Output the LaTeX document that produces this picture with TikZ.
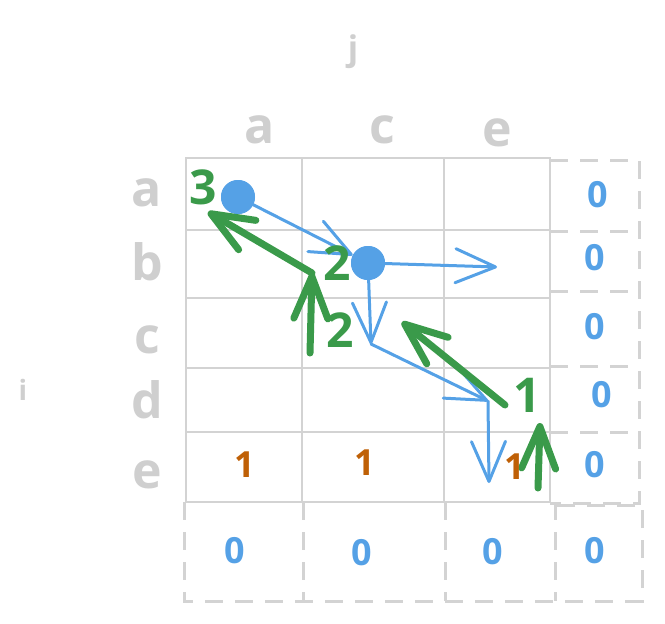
\documentclass[tikz,border=0pt]{standalone}
\usepackage{fontspec}
\setmainfont{Open Sans}
\usetikzlibrary{arrows.meta}

\definecolor{linegray}{HTML}{D3D3D3}
\definecolor{labelgray}{HTML}{CFCFCF}
\definecolor{zeroblue}{HTML}{55A1E6}
\definecolor{stepgreen}{HTML}{3A9A4A}
\definecolor{countorange}{HTML}{BF6006}

\begin{document}
\begin{tikzpicture}[x=1pt,y=-1pt,
  rowlabel/.style={text=labelgray,inner sep=0pt,font=\bfseries\fontsize{50}{50}\selectfont},
  zerolabel/.style={text=zeroblue,inner sep=0pt,font=\bfseries\fontsize{36}{36}\selectfont},
  onelabel/.style={text=countorange,inner sep=0pt,font=\bfseries\fontsize{36}{36}\selectfont},
  steplabel/.style={text=stepgreen,inner sep=0pt,font=\bfseries\fontsize{48}{48}\selectfont},
  visit/.style={circle,fill=zeroblue,minimum size=34pt,inner sep=0pt},
  walk/.style={draw=zeroblue,line width=3pt,line cap=round,
    -{Straight Barb[round,length=40pt,width=34pt]}},
  backstep/.style={draw=stepgreen,line width=7pt,line cap=round,
    -{Straight Barb[round,length=42pt,width=34pt]}},
  dashcell/.style={draw=linegray,line width=3pt,dash pattern=on 18pt off 12pt}]
  \useasboundingbox (0,0) rectangle (665,624);

  % table
  \draw[linegray,line width=2pt] (186,158) rectangle (550,502);
  \foreach \x in {302,444}
    \draw[linegray,line width=2pt] (\x,158) -- (\x,502);
  \foreach \y in {230,298,368,432}
    \draw[linegray,line width=2pt] (186,\y) -- (550,\y);

  % extra column and row
  \draw[dashcell] (550,160) -- (639,160) -- (639,503) -- (550,503);
  \foreach \y in {231,291,366,432}
    \draw[dashcell] (550,\y) -- (639,\y);
  \draw[dashcell] (184,502) -- (184,601) -- (642,601) -- (642,505) -- (555,505);
  \foreach \x in {303,445,555}
    \draw[dashcell] (\x,502) -- (\x,601);

  % labels
  \node[text=labelgray,font=\bfseries\fontsize{34}{34}\selectfont] (jlabel) at (353,52) {j};
  \node[text=labelgray,font=\bfseries\fontsize{28}{28}\selectfont] (ilabel) at (23,390) {i};
  \node[rowlabel] (ca) at (260,130) {a};
  \node[rowlabel] (cc) at (382,130) {c};
  \node[rowlabel] (ce) at (497,133) {e};
  \node[rowlabel] (ra) at (147,193) {a};
  \node[rowlabel] (rb) at (147,262) {b};
  \node[rowlabel] (rc) at (147,340) {c};
  \node[rowlabel] (rd) at (147,400) {d};
  \node[rowlabel] (re) at (147,475) {e};

  % forward walk
  \node[visit] (va) at (238,197) {};
  \node[visit] (vb) at (368,263) {};
  \coordinate (t2) at (497,267);
  \coordinate (t3) at (371,344);
  \coordinate (t4) at (488,401);
  \coordinate (t5) at (489,483);
  \draw[walk] (va) -- (vb);
  \draw[walk] (vb) -- (t2);
  \draw[walk] (vb) -- (t3);
  \draw[walk] (t3) -- (t4);
  \draw[walk] (t4) -- (t5);
  \node[visit] at (va) {};
  \node[visit] at (vb) {};

  % back steps
  \coordinate (g1s) at (538,488);
  \coordinate (g1t) at (540,423);
  \coordinate (g2s) at (505,405);
  \coordinate (g2t) at (402,322);
  \coordinate (g3s) at (310,353);
  \coordinate (g3t) at (312,273);
  \coordinate (g4t) at (208,212);
  \draw[backstep] (g1s) -- (g1t);
  \draw[backstep] (g2s) -- (g2t);
  \draw[backstep] (g3s) -- (g3t);
  \draw[backstep] (g3t) -- (g4t);

  \node[steplabel] (s3) at (203,187) {3};
  \node[steplabel] (s2a) at (337,263) {2};
  \node[steplabel] (s2b) at (340,330) {2};
  \node[steplabel] (s1) at (527,395) {1};

  % counts
  \node[onelabel] (o1) at (245,465) {1};
  \node[onelabel] (o2) at (365,463) {1};
  \node[onelabel] (o3) at (515,467) {1};

  \node[zerolabel] (z1) at (598,195) {0};
  \node[zerolabel] (z2) at (595,258) {0};
  \node[zerolabel] (z3) at (595,327) {0};
  \node[zerolabel] (z4) at (602,395) {0};
  \node[zerolabel] (z5) at (595,465) {0};
  \node[zerolabel] (z6) at (235,551) {0};
  \node[zerolabel] (z7) at (362,553) {0};
  \node[zerolabel] (z8) at (493,552) {0};
  \node[zerolabel] (z9) at (595,551) {0};
\end{tikzpicture}
\end{document}
